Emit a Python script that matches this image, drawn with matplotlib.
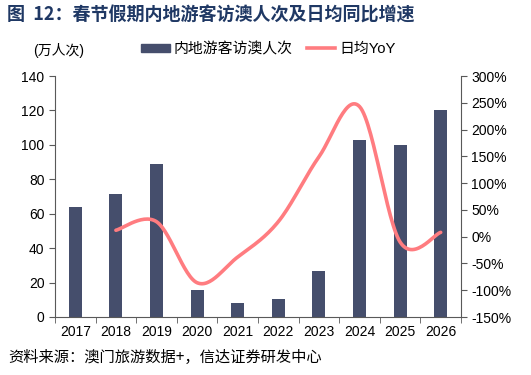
import numpy as np
import matplotlib
matplotlib.use("Agg")
import matplotlib.pyplot as plt
from matplotlib.lines import Line2D
from matplotlib.patches import Patch

plt.rcParams['font.family'] = ['Liberation Sans', 'Noto Sans CJK SC', 'DejaVu Sans']

years = ['2017', '2018', '2019', '2020', '2021', '2022', '2023', '2024', '2025', '2026']
visitors = [64, 71.5, 89, 15.5, 8, 10.5, 26.5, 103, 100, 120.5]  # 万人次
yoy_years = [1, 2, 3, 4, 5, 6, 7, 8, 9]  # index into years, from 2018
yoy = [12, 28, -86, -38, 28, 149, 243, -10, 8]  # %

bar_color = '#454E6C'
line_color = '#FF7C80'
title_color = '#1F3864'


def smooth(x, y, n=30):
    # excel-like smoothed line (cardinal spline through the points)
    x = np.asarray(x, float)
    y = np.asarray(y, float)
    px = np.concatenate([[x[0]], x, [x[-1]]])
    py = np.concatenate([[y[0]], y, [y[-1]]])
    xs, ys = [], []
    for i in range(1, len(px) - 2):
        p0, p1, p2, p3 = (np.array([px[j], py[j]]) for j in (i - 1, i, i + 1, i + 2))
        c1 = p1 + (p2 - p0) / 6
        c2 = p2 - (p3 - p1) / 6
        t = np.linspace(0, 1, n)[:, None]
        pts = (1 - t) ** 3 * p1 + 3 * (1 - t) ** 2 * t * c1 + 3 * (1 - t) * t ** 2 * c2 + t ** 3 * p2
        xs.extend(pts[:, 0])
        ys.extend(pts[:, 1])
    return np.array(xs), np.array(ys)


fig = plt.figure(figsize=(5.31, 3.75), dpi=100)
ax = fig.add_axes([55 / 531, 1 - 317 / 375, 406 / 531, 241 / 375])
ax2 = ax.twinx()

x = np.arange(len(years))
ax.bar(x, visitors, width=0.32, color=bar_color, zorder=2)
ax.set_xlim(-0.5, len(years) - 0.5)
ax.set_ylim(0, 140)
ax.set_yticks(range(0, 141, 20))
ax.set_xticks(x)
ax.set_xticklabels(years)
ax.set_xticks(np.arange(-0.5, len(years), 1), minor=True)
ax.tick_params(axis='x', which='major', length=0, pad=6, labelsize=10)
ax.tick_params(axis='x', which='minor', length=4, direction='out', color='#595959')
ax.tick_params(axis='y', length=4, direction='out', labelsize=10, color='#595959')

sx, sy = smooth(yoy_years, yoy)
ax2.plot(sx, sy, color=line_color, lw=2.6, solid_capstyle='round', zorder=3)
ax2.set_ylim(-150, 300)
ax2.set_yticks(range(-150, 301, 50))
ax2.set_yticklabels([f'{v}%' for v in range(-150, 301, 50)])
ax2.tick_params(axis='y', length=4, direction='out', labelsize=10, color='#595959')

for a in (ax, ax2):
    a.spines['top'].set_visible(False)
    for s in ('left', 'right', 'bottom'):
        a.spines[s].set_color('#595959')
ax.spines['right'].set_visible(False)
ax2.spines['left'].set_visible(False)
ax2.spines['bottom'].set_visible(False)

fig.text(7 / 531, 1 - 15 / 375, '图  12：春节假期内地游客访澳人次及日均同比增速', fontsize=13,
         fontweight='bold', color=title_color, va='center', family=['Noto Sans CJK SC'])
fig.text(33 / 531, 1 - 50 / 375, '(万人次)', fontsize=10, va='center')

handles = [Patch(color=bar_color), Line2D([], [], color=line_color, lw=2.6)]
fig.legend(handles, ['内地游客访澳人次', '日均YoY'], loc='center left',
           bbox_to_anchor=(128 / 531, 1 - 49 / 375), ncol=2, frameon=False,
           fontsize=10.7, handlelength=1.9, handleheight=0.5, columnspacing=1.0, handletextpad=0.25)

fig.text(8 / 531, 1 - 357 / 375, '资料来源：澳门旅游数据+，信达证券研发中心', fontsize=11,
         style='italic', va='center', family=['Noto Sans CJK SC'])

fig.savefig('out.png', dpi=100)
